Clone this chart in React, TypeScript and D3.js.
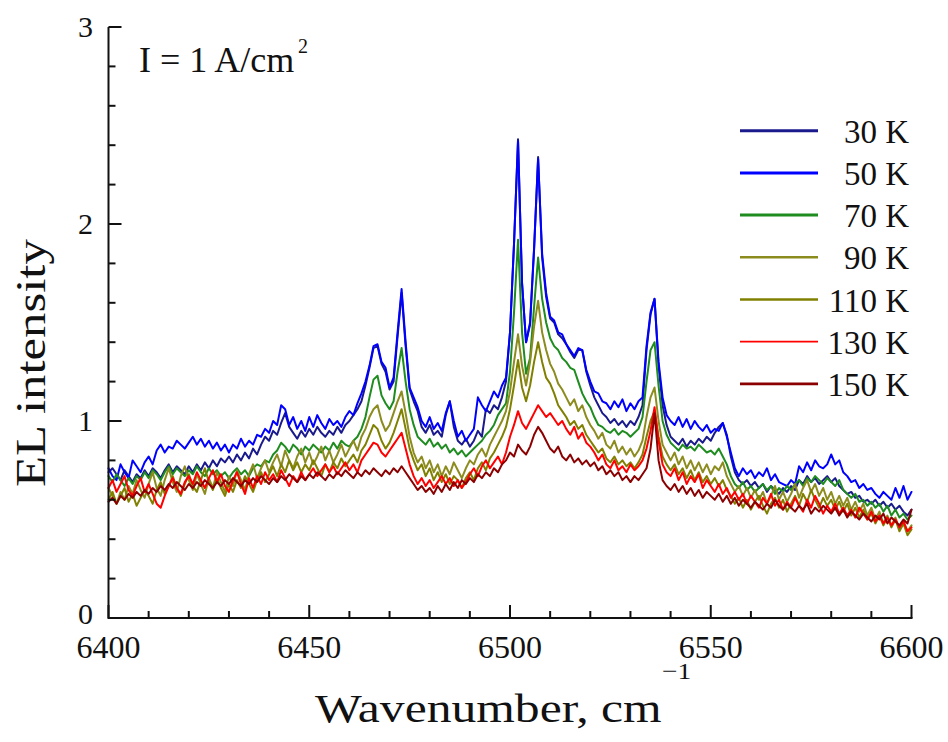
import React from 'react';
import * as d3 from 'd3';

// Wavenumber grid (cm^-1), one point per cm^-1 from 6400 to 6600
const WAVENUMBERS: number[] = d3.range(6400, 6601, 1);

const K30: number[] = [
  0.74, 0.76, 0.73, 0.70, 0.75, 0.72, 0.69, 0.73, 0.71, 0.75,
  0.72, 0.76, 0.74, 0.71, 0.75, 0.78, 0.74, 0.77, 0.75, 0.73,
  0.77, 0.74, 0.78, 0.75, 0.79, 0.76, 0.80, 0.77, 0.81, 0.79,
  0.82, 0.79, 0.83, 0.80, 0.84, 0.81, 0.86, 0.83, 0.88, 0.92,
  0.90, 0.95, 0.93, 0.99, 1.04, 0.97, 0.94, 0.91, 0.95, 0.92,
  0.96, 0.93, 0.97, 0.94, 0.92, 0.95, 0.93, 0.97, 0.94, 0.98,
  1.00, 1.03, 1.06, 1.10, 1.18, 1.27, 1.37, 1.38, 1.29, 1.25,
  1.16, 1.20, 1.43, 1.65, 1.38, 1.16, 1.10, 1.05, 0.97, 0.94,
  0.98, 0.93, 0.95, 0.92, 1.03, 1.10, 0.97, 0.90, 0.88, 0.91,
  0.87, 0.90, 0.95, 0.92, 1.06, 1.04, 1.08, 1.06, 1.12, 1.20,
  1.45, 1.90, 2.43, 1.70, 1.40, 1.49, 1.87, 2.34, 1.83, 1.63,
  1.52, 1.50, 1.44, 1.42, 1.39, 1.35, 1.32, 1.36, 1.36, 1.25,
  1.18, 1.12, 1.08, 1.04, 1.02, 0.99, 1.01, 0.98, 1.00, 0.97,
  1.00, 0.98, 1.02, 1.08, 1.36, 1.54, 1.62, 1.28, 1.08, 0.98,
  0.92, 0.90, 0.88, 0.91, 0.87, 0.90, 0.88, 0.91, 0.89, 0.92,
  0.90, 0.94, 0.97, 0.99, 0.93, 0.82, 0.74, 0.70, 0.68, 0.70,
  0.67, 0.69, 0.66, 0.68, 0.64, 0.67, 0.65, 0.63, 0.66, 0.64,
  0.67, 0.65, 0.70, 0.68, 0.72, 0.69, 0.71, 0.68, 0.70, 0.72,
  0.69, 0.71, 0.67, 0.65, 0.63, 0.64, 0.61, 0.62, 0.59, 0.60,
  0.58, 0.60, 0.57, 0.59, 0.56, 0.58, 0.55, 0.57, 0.54, 0.52,
  0.55,
];

const K50: number[] = [
  0.76, 0.72, 0.70, 0.78, 0.74, 0.71, 0.80, 0.77, 0.74, 0.79,
  0.82, 0.78, 0.85, 0.88, 0.84, 0.87, 0.86, 0.90, 0.88, 0.86,
  0.89, 0.92, 0.88, 0.91, 0.87, 0.90, 0.86, 0.89, 0.85, 0.88,
  0.84, 0.88, 0.86, 0.91, 0.87, 0.90, 0.88, 0.93, 0.92, 0.96,
  0.94, 1.00, 0.98, 1.08, 1.06, 0.98, 1.02, 0.96, 1.00, 0.95,
  1.02, 0.97, 1.03, 0.99, 0.96, 1.01, 0.98, 1.00, 0.97, 1.02,
  1.05, 1.03, 1.09, 1.14, 1.20, 1.28, 1.38, 1.39, 1.30, 1.27,
  1.17, 1.22, 1.45, 1.67, 1.40, 1.17, 1.12, 1.07, 1.00, 0.97,
  1.02, 0.96, 0.99, 0.95, 1.04, 1.10, 1.00, 0.92, 0.95, 0.90,
  0.93, 0.96, 1.12, 1.08, 1.05, 1.10, 1.15, 1.12, 1.18, 1.22,
  1.45, 1.90, 2.42, 1.70, 1.40, 1.50, 1.88, 2.33, 1.85, 1.65,
  1.53, 1.51, 1.45, 1.44, 1.39, 1.36, 1.33, 1.37, 1.36, 1.26,
  1.20, 1.15, 1.14, 1.10, 1.09, 1.06, 1.10, 1.07, 1.11, 1.05,
  1.09, 1.06, 1.10, 1.12, 1.38, 1.55, 1.62, 1.30, 1.12, 1.03,
  1.00, 0.98, 1.02, 0.97, 1.01, 0.96, 1.00, 0.97, 0.95, 0.98,
  0.94, 0.96, 0.95, 0.99, 0.92, 0.84, 0.76, 0.72, 0.76, 0.73,
  0.75, 0.71, 0.74, 0.72, 0.76, 0.70, 0.73, 0.69, 0.68, 0.67,
  0.70, 0.68, 0.77, 0.74, 0.79, 0.75, 0.80, 0.77, 0.76, 0.78,
  0.83, 0.78, 0.80, 0.74, 0.72, 0.69, 0.70, 0.66, 0.68, 0.65,
  0.66, 0.63, 0.61, 0.64, 0.62, 0.60, 0.66, 0.61, 0.67, 0.60,
  0.64,
];

const K70: number[] = [
  0.72, 0.69, 0.73, 0.70, 0.67, 0.71, 0.68, 0.72, 0.70, 0.74,
  0.71, 0.75, 0.73, 0.70, 0.74, 0.77, 0.73, 0.76, 0.74, 0.72,
  0.75, 0.73, 0.77, 0.74, 0.72, 0.76, 0.73, 0.75, 0.72, 0.74,
  0.71, 0.74, 0.76, 0.73, 0.75, 0.72, 0.76, 0.78, 0.77, 0.80,
  0.79, 0.83, 0.85, 0.89, 0.87, 0.84, 0.88, 0.86, 0.83, 0.87,
  0.85, 0.88, 0.86, 0.84, 0.87, 0.85, 0.89, 0.86, 0.90, 0.88,
  0.87, 0.90, 0.92, 0.96, 1.02, 1.12, 1.21, 1.23, 1.13, 1.09,
  1.06, 1.10, 1.25, 1.37, 1.20, 1.06, 0.98, 0.92, 0.90, 0.88,
  0.91, 0.87, 0.89, 0.86, 0.88, 0.84, 0.86, 0.83, 0.85, 0.82,
  0.84, 0.86, 0.88, 0.90, 0.93, 0.95, 0.98, 1.03, 1.06, 1.09,
  1.25, 1.55, 1.92, 1.45, 1.24, 1.32, 1.58, 1.83, 1.62, 1.50,
  1.42, 1.38, 1.36, 1.32, 1.30, 1.27, 1.26, 1.20, 1.14, 1.10,
  1.07, 1.02, 0.98, 0.97, 0.95, 0.94, 0.96, 0.93, 0.95, 0.94,
  0.92, 0.94, 0.96, 1.02, 1.20, 1.36, 1.40, 1.18, 1.00, 0.93,
  0.89, 0.87, 0.85, 0.88, 0.86, 0.87, 0.85, 0.88, 0.86, 0.84,
  0.85, 0.83, 0.86, 0.82, 0.78, 0.72, 0.68, 0.66, 0.69, 0.65,
  0.67, 0.64, 0.66, 0.68, 0.65, 0.67, 0.63, 0.66, 0.64, 0.67,
  0.65, 0.68, 0.70, 0.67, 0.71, 0.69, 0.72, 0.70, 0.68, 0.71,
  0.69, 0.67, 0.70, 0.65, 0.63, 0.61, 0.63, 0.59, 0.60, 0.57,
  0.59, 0.56, 0.58, 0.54, 0.57, 0.52, 0.55, 0.51, 0.53, 0.50,
  0.52,
];

const K90: number[] = [
  0.66, 0.62, 0.58, 0.64, 0.60, 0.67, 0.63, 0.70, 0.65, 0.61,
  0.68, 0.74, 0.66, 0.62, 0.70, 0.76, 0.69, 0.64, 0.72, 0.77,
  0.70, 0.65, 0.73, 0.68, 0.63, 0.71, 0.66, 0.74, 0.69, 0.64,
  0.72, 0.67, 0.75, 0.70, 0.65, 0.73, 0.78, 0.71, 0.76, 0.80,
  0.74, 0.79, 0.83, 0.77, 0.85, 0.80, 0.76, 0.82, 0.86, 0.79,
  0.84, 0.78, 0.82, 0.87, 0.80, 0.85, 0.79, 0.83, 0.88, 0.82,
  0.86, 0.90, 0.85, 0.92, 0.96, 1.02, 1.06, 1.08, 1.00, 0.95,
  0.98, 1.04, 1.10, 1.15, 1.04, 0.92, 0.84, 0.79, 0.82, 0.76,
  0.80, 0.74, 0.78, 0.72, 0.77, 0.73, 0.79, 0.75, 0.71, 0.76,
  0.80, 0.78, 0.83, 0.86, 0.82, 0.88, 0.92, 0.96, 1.00, 1.05,
  1.15, 1.30, 1.44, 1.28, 1.18, 1.30, 1.48, 1.61, 1.45, 1.36,
  1.29, 1.25, 1.19, 1.16, 1.12, 1.08, 1.11, 1.05, 1.08, 1.02,
  0.98, 0.95, 0.91, 0.94, 0.88, 0.86, 0.90, 0.84, 0.87, 0.83,
  0.86, 0.82, 0.85, 0.90, 1.02, 1.12, 1.17, 1.00, 0.88, 0.84,
  0.80, 0.84, 0.78, 0.82, 0.76, 0.80, 0.75, 0.79, 0.74, 0.78,
  0.73, 0.77, 0.75, 0.79, 0.72, 0.68, 0.64, 0.67, 0.62, 0.66,
  0.61, 0.65, 0.60, 0.64, 0.58, 0.62, 0.67, 0.60, 0.64, 0.59,
  0.63, 0.68, 0.61, 0.66, 0.70, 0.64, 0.68, 0.62, 0.66, 0.60,
  0.64, 0.58, 0.62, 0.57, 0.61, 0.55, 0.59, 0.54, 0.58, 0.52,
  0.56, 0.50, 0.54, 0.48, 0.52, 0.47, 0.51, 0.45, 0.49, 0.44,
  0.47,
];

const K110: number[] = [
  0.60, 0.64, 0.58, 0.62, 0.66, 0.59, 0.63, 0.57, 0.61, 0.65,
  0.62, 0.58, 0.65, 0.69, 0.63, 0.67, 0.72, 0.66, 0.62, 0.68,
  0.73, 0.67, 0.64, 0.70, 0.76, 0.69, 0.65, 0.71, 0.66, 0.62,
  0.68, 0.64, 0.70, 0.66, 0.72, 0.68, 0.64, 0.70, 0.74, 0.69,
  0.73, 0.77, 0.72, 0.78, 0.74, 0.80, 0.75, 0.79, 0.74, 0.78,
  0.75, 0.80, 0.76, 0.72, 0.78, 0.74, 0.79, 0.76, 0.81, 0.77,
  0.80, 0.83, 0.79, 0.85, 0.88, 0.93, 0.98, 0.96, 0.90, 0.86,
  0.89, 0.94, 1.00, 1.06, 0.96, 0.86, 0.80, 0.75, 0.78, 0.72,
  0.76, 0.70, 0.74, 0.69, 0.73, 0.68, 0.72, 0.70, 0.66, 0.71,
  0.74, 0.70, 0.76, 0.79, 0.75, 0.81, 0.84, 0.88, 0.92, 0.97,
  1.06, 1.18, 1.31, 1.17, 1.10, 1.18, 1.30, 1.40, 1.30, 1.22,
  1.19, 1.14, 1.08, 1.05, 1.02, 0.98, 1.00, 0.96, 0.98, 0.93,
  0.90, 0.87, 0.84, 0.86, 0.81, 0.79, 0.82, 0.78, 0.80, 0.77,
  0.79, 0.76, 0.79, 0.83, 0.92, 1.00, 1.05, 0.92, 0.82, 0.78,
  0.75, 0.78, 0.73, 0.76, 0.71, 0.75, 0.70, 0.74, 0.69, 0.72,
  0.68, 0.71, 0.67, 0.70, 0.65, 0.62, 0.58, 0.61, 0.56, 0.60,
  0.55, 0.59, 0.62, 0.57, 0.53, 0.58, 0.61, 0.56, 0.60, 0.54,
  0.58, 0.62, 0.57, 0.63, 0.59, 0.65, 0.60, 0.56, 0.61, 0.57,
  0.60, 0.55, 0.59, 0.54, 0.58, 0.52, 0.56, 0.51, 0.55, 0.50,
  0.53, 0.48, 0.52, 0.47, 0.51, 0.46, 0.50, 0.44, 0.48, 0.42,
  0.45,
];

const K130: number[] = [
  0.66, 0.70, 0.64, 0.68, 0.72, 0.65, 0.62, 0.67, 0.71, 0.64,
  0.68, 0.63, 0.58, 0.56, 0.62, 0.67, 0.71, 0.66, 0.63, 0.69,
  0.72, 0.68, 0.74, 0.70, 0.66, 0.71, 0.75, 0.69, 0.73, 0.67,
  0.64, 0.70, 0.74, 0.68, 0.63, 0.71, 0.66, 0.72, 0.68, 0.74,
  0.70, 0.73, 0.69, 0.75, 0.71, 0.67, 0.72, 0.69, 0.74, 0.70,
  0.73, 0.76, 0.72, 0.75, 0.78, 0.74, 0.77, 0.73, 0.76, 0.79,
  0.75, 0.78, 0.74, 0.80, 0.83, 0.86, 0.89, 0.88, 0.84, 0.82,
  0.85, 0.88, 0.91, 0.94, 0.86, 0.78, 0.72, 0.68, 0.71, 0.67,
  0.70, 0.66, 0.69, 0.72, 0.68, 0.71, 0.67, 0.70, 0.66, 0.69,
  0.73, 0.76, 0.72, 0.77, 0.80, 0.76, 0.79, 0.82, 0.78, 0.84,
  0.92, 0.98, 1.05, 0.99, 0.96, 1.00, 1.04, 1.08, 1.05, 1.02,
  1.04, 1.01, 0.98, 1.00, 0.96, 0.93, 0.97, 0.91, 0.94, 0.89,
  0.87, 0.84, 0.80, 0.83, 0.78, 0.76, 0.80, 0.75, 0.77, 0.74,
  0.78, 0.75, 0.77, 0.80, 0.86, 0.95, 1.07, 0.90, 0.78, 0.74,
  0.72, 0.76, 0.70, 0.74, 0.68, 0.72, 0.69, 0.73, 0.66, 0.70,
  0.67, 0.64, 0.68, 0.63, 0.66, 0.61, 0.64, 0.60, 0.63, 0.58,
  0.62, 0.59, 0.56, 0.61, 0.58, 0.63, 0.57, 0.60, 0.55, 0.59,
  0.56, 0.61, 0.57, 0.54, 0.60, 0.56, 0.62, 0.58, 0.53, 0.57,
  0.54, 0.58, 0.53, 0.56, 0.52, 0.55, 0.51, 0.56, 0.53, 0.50,
  0.54, 0.49, 0.52, 0.48, 0.51, 0.47, 0.50, 0.46, 0.49, 0.44,
  0.46,
];

const K150: number[] = [
  0.59, 0.61, 0.58, 0.62, 0.60, 0.63, 0.61, 0.64, 0.62, 0.65,
  0.63, 0.66, 0.64, 0.67, 0.65, 0.68, 0.66, 0.69, 0.67, 0.65,
  0.68, 0.66, 0.69, 0.67, 0.70, 0.68, 0.66, 0.69, 0.67, 0.70,
  0.68, 0.71, 0.69, 0.67, 0.70, 0.68, 0.71, 0.69, 0.72, 0.70,
  0.68, 0.71, 0.69, 0.72, 0.70, 0.73, 0.71, 0.69, 0.72, 0.70,
  0.73, 0.71, 0.74, 0.72, 0.70, 0.73, 0.71, 0.74, 0.72, 0.75,
  0.73, 0.71, 0.74, 0.72, 0.75, 0.73, 0.76, 0.74, 0.72, 0.75,
  0.73, 0.76, 0.74, 0.77, 0.74, 0.71, 0.68, 0.65, 0.67, 0.64,
  0.66, 0.63, 0.67, 0.64, 0.68, 0.65, 0.69, 0.66, 0.70, 0.68,
  0.71, 0.69, 0.73, 0.71, 0.74, 0.72, 0.76, 0.74, 0.78, 0.80,
  0.84, 0.82, 0.88, 0.85, 0.83, 0.87, 0.93, 0.97, 0.94, 0.90,
  0.86, 0.84, 0.87, 0.82, 0.80, 0.83, 0.79, 0.81, 0.78, 0.80,
  0.77, 0.79, 0.75, 0.77, 0.73, 0.75, 0.72, 0.74, 0.70, 0.72,
  0.69, 0.72, 0.70, 0.73, 0.76, 0.86, 1.04, 0.80, 0.70, 0.67,
  0.65, 0.68, 0.64, 0.67, 0.63, 0.66, 0.62, 0.65, 0.61, 0.64,
  0.62, 0.60, 0.63, 0.59, 0.62, 0.58, 0.61, 0.57, 0.60, 0.58,
  0.56, 0.59, 0.57, 0.55, 0.58, 0.56, 0.60, 0.57, 0.55, 0.58,
  0.56, 0.54, 0.57, 0.55, 0.58, 0.53, 0.56, 0.54, 0.57, 0.55,
  0.53, 0.56, 0.52, 0.55, 0.51, 0.54, 0.52, 0.50, 0.53, 0.51,
  0.49, 0.52, 0.50, 0.53, 0.48, 0.51, 0.49, 0.47, 0.50, 0.48,
  0.55,
];

const SERIES_VALUES: number[][] = [K30, K50, K70, K90, K110, K130, K150];
const SERIES_LABELS: string[] = ['30 K', '50 K', '70 K', '90 K', '110 K', '130 K', '150 K'];
const SERIES_COLORS: string[] = ['#1a1a8c', '#0000ff', '#1e8c1e', '#8c8c1e', '#808000', '#ff0000', '#8b0000'];
const LEGEND_WIDTHS: number[] = [3, 3, 3, 2.6, 2.6, 1.8, 2.6];

const X_MAJOR_TICKS: number[] = [6400, 6450, 6500, 6550, 6600];
const Y_MAJOR_TICKS: number[] = [0, 1, 2, 3];

const FONT = 'Liberation Serif, DejaVu Serif, serif';

export default function App() {
  const W = 948;
  const H = 742;
  const x = d3.scaleLinear().domain([6400, 6600]).range([108.5, 911.5]);
  const y = d3.scaleLinear().domain([0, 3]).range([618, 27]);

  const xMinor = d3.range(6400, 6601, 10).filter((v) => !X_MAJOR_TICKS.includes(v));
  const yMinor = d3.range(0, 3.001, 0.2).filter((v) => Math.abs(v - Math.round(v)) > 0.01);

  const makeLine = (vals: number[]) =>
    d3
      .line<number>()
      .x((_, i) => x(WAVENUMBERS[i]))
      .y((d) => y(d))(vals) || '';

  const axisColor = '#111';

  return (
    <svg
      width={W}
      height={H}
      viewBox={`0 0 ${W} ${H}`}
      fontFamily={FONT}
      style={{ position: 'absolute', left: 0, top: 0, background: '#fff' }}
    >
      <rect x={0} y={0} width={W} height={H} fill="#fff" />

      {/* data */}
      <g fill="none" strokeLinejoin="round" strokeLinecap="round">
        {SERIES_VALUES.map((vals, i) => (
          <path key={i} d={makeLine(vals)} stroke={SERIES_COLORS[i]} strokeWidth={2} />
        ))}
      </g>

      {/* axes */}
      <g stroke={axisColor} strokeWidth={2}>
        <line x1={x(6400)} x2={x(6600) + 1} y1={y(0)} y2={y(0)} />
        <line x1={x(6400)} x2={x(6400)} y1={y(0) + 1} y2={y(3)} />
        {X_MAJOR_TICKS.map((t) => (
          <line key={'xM' + t} x1={x(t)} x2={x(t)} y1={y(0)} y2={y(0) - 13} />
        ))}
        {xMinor.map((t) => (
          <line key={'xm' + t} x1={x(t)} x2={x(t)} y1={y(0)} y2={y(0) - 7} />
        ))}
        {Y_MAJOR_TICKS.map((t) => (
          <line key={'yM' + t} x1={x(6400)} x2={x(6400) + 13} y1={y(t)} y2={y(t)} />
        ))}
        {yMinor.map((t) => (
          <line key={'ym' + t} x1={x(6400)} x2={x(6400) + 7} y1={y(t)} y2={y(t)} />
        ))}
      </g>

      {/* tick labels */}
      <g fill="#111" fontSize={32} fontFamily={FONT}>
        {X_MAJOR_TICKS.map((t) => (
          <text key={'xl' + t} x={x(t)} y={658} textAnchor="middle">
            {t}
          </text>
        ))}
      </g>
      <g fill="#111" fontSize={30} fontFamily={FONT}>
        {Y_MAJOR_TICKS.map((t) => (
          <text key={'yl' + t} x={93} y={y(t) + (t === 0 ? 6 : 10)} textAnchor="end">
            {t}
          </text>
        ))}
      </g>

      {/* axis titles */}
      <text
        transform="translate(315, 722) scale(1.21, 1)"
        fontSize={41}
        fill="#111"
        fontFamily={FONT}
      >
        Wavenumber, cm
      </text>
      <text transform="translate(662, 679) scale(1.15, 1)" fontSize={24} fill="#111" fontFamily={FONT}>
        −1
      </text>
      <text
        transform="translate(45, 487) rotate(-90) scale(1.21, 1)"
        fontSize={42}
        fill="#111"
        fontFamily={FONT}
      >
        EL intensity
      </text>

      {/* annotation */}
      <text x={139} y={72} fontSize={36} fill="#111" fontFamily={FONT}>
        I = 1 A/cm
      </text>
      <text x={298} y={53} fontSize={20} fill="#111" fontFamily={FONT}>
        2
      </text>

      {/* legend */}
      <g fontFamily={FONT}>
        {SERIES_LABELS.map((lab, i) => {
          const ly = 130.7 + i * 42.2;
          return (
            <g key={lab}>
              <line x1={740} x2={818} y1={ly} y2={ly} stroke={SERIES_COLORS[i]} strokeWidth={LEGEND_WIDTHS[i]} />
              <text x={909} y={ly + 12} fontSize={33} fill="#111" textAnchor="end">
                {lab}
              </text>
            </g>
          );
        })}
      </g>
    </svg>
  );
}
